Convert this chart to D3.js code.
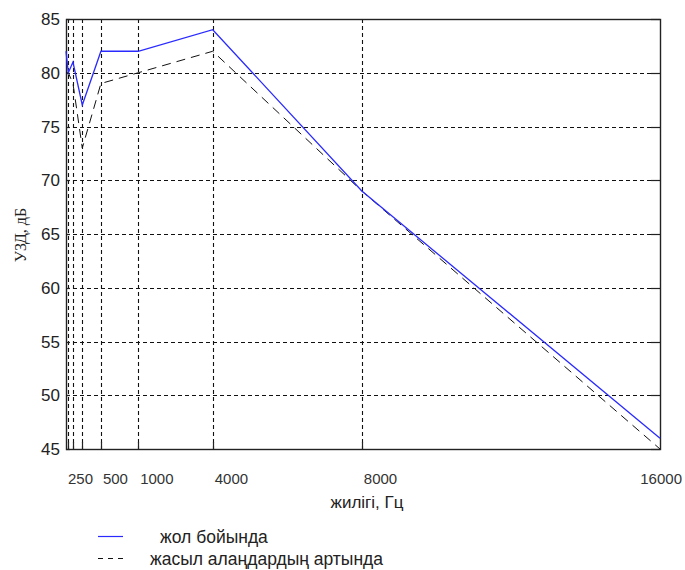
<!DOCTYPE html>
<html>
<head>
<meta charset="utf-8">
<script src="https://d3js.org/d3.v7.min.js"></script>
<style>
    body { margin: 0; background: #fff; }
    svg { display: block; }
</style>
</head>
<body>
<svg width="685" height="570"></svg>
<script>
// octave band centres, Hz
var freqs = [63, 125, 250, 500, 1000, 2000, 4000, 8000, 16000];
// жол бойында
var roadside = [82, 80, 81, 77, 82, 82, 84, 69, 46];
// жасыл алаңдардың артында
var behindGreen = [80, 80, 79, 73, 79, 80, 82, 69, 45];

var gridFreqs = [125, 250, 500, 1000, 2000, 4000, 8000];
var yTicks = [45, 50, 55, 60, 65, 70, 75, 80, 85];
var xLabels = ["250", "500", "1000", "4000", "8000", "16000"];
var xLabelAt = [63, 1000, 2000, 4000, 8000, 16000];

var seriesNames = ["жол бойында", "жасыл алаңдардың артында"];

function drawChart() {
    var svg = d3.select("svg");
    var pl = 66, pr = 660, pt = 19, pb = 449;

    var x = d3.scaleLinear().domain([63, 16000]).range([pl, pr]);
    var y = d3.scaleLinear().domain([45, 85]).range([pb, pt]);

    var sans = "'Liberation Sans', Arial, sans-serif";
    var px = function(v) { return Math.round(v) + 0.5; };

    // grid
    var grid = svg.append("g")
        .attr("stroke", "#111")
        .attr("stroke-width", 1.1)
        .attr("stroke-dasharray", "4,3");

    grid.selectAll("line.v")
        .data(gridFreqs)
        .enter().append("line")
        .attr("class", "v")
        .attr("x1", function(d) { return px(x(d)); })
        .attr("x2", function(d) { return px(x(d)); })
        .attr("y1", pt)
        .attr("y2", pb);

    grid.selectAll("line.h")
        .data(yTicks.slice(1, -1))
        .enter().append("line")
        .attr("class", "h")
        .attr("x1", pl)
        .attr("x2", pr)
        .attr("y1", function(d) { return px(y(d)); })
        .attr("y2", function(d) { return px(y(d)); });

    // small solid ticks pointing inwards
    var ticks = svg.append("g").attr("stroke", "#222").attr("stroke-width", 1.2);
    ticks.selectAll("line.b")
        .data(gridFreqs)
        .enter().append("line")
        .attr("x1", function(d) { return px(x(d)); })
        .attr("x2", function(d) { return px(x(d)); })
        .attr("y1", pb - 7)
        .attr("y2", pb);
    ticks.selectAll("line.l")
        .data(yTicks)
        .enter().append("line")
        .attr("x1", pl)
        .attr("x2", pl + 4)
        .attr("y1", function(d) { return px(y(d)); })
        .attr("y2", function(d) { return px(y(d)); });
    ticks.selectAll("line.r")
        .data(yTicks)
        .enter().append("line")
        .attr("x1", pr - 9)
        .attr("x2", pr)
        .attr("y1", function(d) { return px(y(d)); })
        .attr("y2", function(d) { return px(y(d)); });

    // frame
    svg.append("rect")
        .attr("x", pl + 0.5)
        .attr("y", pt + 0.5)
        .attr("width", pr - pl)
        .attr("height", pb - pt)
        .attr("fill", "none")
        .attr("stroke", "#222")
        .attr("stroke-width", 1.4);

    // series
    var line = d3.line()
        .x(function(d, i) { return x(freqs[i]); })
        .y(function(d) { return y(d); });

    svg.append("path")
        .datum(behindGreen)
        .attr("d", line)
        .attr("fill", "none")
        .attr("stroke", "#111")
        .attr("stroke-width", 1)
        .attr("stroke-dasharray", "9,6");

    svg.append("path")
        .datum(roadside)
        .attr("d", line)
        .attr("fill", "none")
        .attr("stroke", "#2a2aff")
        .attr("stroke-width", 1.3);

    // y labels
    svg.append("g").selectAll("text")
        .data(yTicks)
        .enter().append("text")
        .attr("x", 60)
        .attr("y", function(d) { return y(d); })
        .attr("dy", "0.36em")
        .attr("text-anchor", "end")
        .attr("font-family", sans)
        .attr("font-size", 17)
        .attr("fill", "#222")
        .text(function(d) { return d; });

    // x labels sit to the right of their gridlines, as in the original
    var last = xLabels.length - 1;
    svg.append("g").selectAll("text")
        .data(xLabels)
        .enter().append("text")
        .attr("x", function(d, i) { return i == last ? x(xLabelAt[i]) + 22 : x(xLabelAt[i]) + 2; })
        .attr("y", 484)
        .attr("text-anchor", function(d, i) { return i == last ? "end" : "start"; })
        .attr("font-family", sans)
        .attr("font-size", 15)
        .attr("fill", "#333")
        .text(function(d) { return d; });

    // axis titles
    svg.append("text")
        .attr("x", 367)
        .attr("y", 508)
        .attr("text-anchor", "middle")
        .attr("font-family", sans)
        .attr("font-size", 17)
        .attr("fill", "#222")
        .text("жилігі, Гц");

    svg.append("text")
        .attr("transform", "translate(26,235) rotate(-90)")
        .attr("text-anchor", "middle")
        .attr("font-family", "'Liberation Serif', 'Times New Roman', serif")
        .attr("font-size", 16)
        .attr("fill", "#222")
        .text("УЗД, дБ");

    // legend
    var legend = svg.append("g");
    var legendRows = [
        { name: seriesNames[0], color: "#2a2aff", dash: null, lx: 98, len: 25, tx: 160, ly: 536.5 },
        { name: seriesNames[1], color: "#111", dash: "5,5", lx: 98, len: 30, tx: 150, ly: 558.5 }
    ];
    legendRows.forEach(function(r) {
        legend.append("line")
            .attr("x1", r.lx)
            .attr("x2", r.lx + r.len)
            .attr("y1", r.ly)
            .attr("y2", r.ly)
            .attr("stroke", r.color)
            .attr("stroke-width", 1.2)
            .attr("stroke-dasharray", r.dash);
        legend.append("text")
            .attr("x", r.tx)
            .attr("y", r.ly + 1)
            .attr("dy", "0.32em")
            .attr("font-family", sans)
            .attr("font-size", 17.5)
            .attr("fill", "#222")
            .text(r.name);
    });
}

drawChart();
</script>
</body>
</html>
